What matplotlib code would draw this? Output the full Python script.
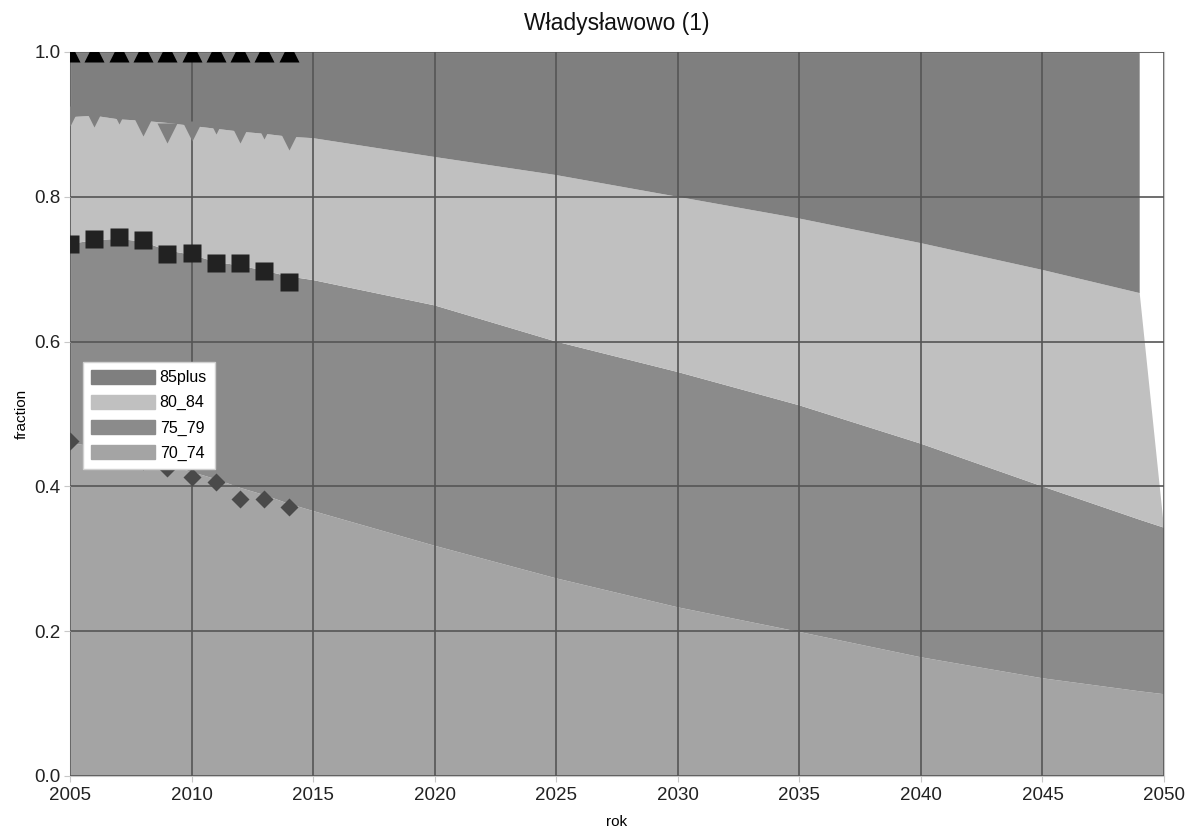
import matplotlib
matplotlib.use("Agg")
import matplotlib.pyplot as plt
from matplotlib.patches import Patch
import numpy as np

plt.rcParams['font.family'] = ['Liberation Sans', 'DejaVu Sans']

# DATA: model fractions per age group (stacked areas)
years = [2005, 2006, 2007, 2008, 2009, 2010, 2011, 2012, 2013, 2014, 2015,
         2020, 2025, 2030, 2035, 2040, 2045, 2049, 2050]
g70_74 = [0.460, 0.455, 0.450, 0.440, 0.430, 0.420, 0.410, 0.398, 0.388, 0.376, 0.366,
          0.318, 0.273, 0.233, 0.199, 0.164, 0.135, 0.117, 0.113]
g75_79 = [0.275, 0.285, 0.292, 0.298, 0.296, 0.300, 0.300, 0.307, 0.310, 0.314, 0.319,
          0.332, 0.327, 0.325, 0.313, 0.295, 0.265, 0.237, 0.230]
g80_84 = [0.175, 0.172, 0.165, 0.167, 0.176, 0.178, 0.184, 0.185, 0.189, 0.193, 0.196,
          0.205, 0.230, 0.242, 0.258, 0.277, 0.299, 0.313, 0.000]
g85plus = [0.090, 0.088, 0.093, 0.095, 0.098, 0.102, 0.106, 0.110, 0.113, 0.117, 0.119,
           0.145, 0.170, 0.200, 0.230, 0.264, 0.301, 0.333, np.nan]

# observed (cumulative) points
obs_years = [2005, 2006, 2007, 2008, 2009, 2010, 2011, 2012, 2013, 2014]
obs_70 = [0.463, 0.452, 0.445, 0.435, 0.425, 0.413, 0.406, 0.383, 0.383, 0.372]
obs_75 = [0.735, 0.742, 0.744, 0.740, 0.721, 0.723, 0.708, 0.709, 0.698, 0.682]
obs_80 = [0.912, 0.910, 0.914, 0.898, 0.888, 0.891, 0.900, 0.888, 0.893, 0.879]
obs_85 = [1.0, 1.0, 1.0, 1.0, 1.0, 1.0, 1.0, 1.0, 1.0, 1.0]

labels = ['70_74', '75_79', '80_84', '85plus']
colors = ['#a4a4a4', '#8b8b8b', '#c0c0c0', '#7f7f7f']

fig = plt.figure(figsize=(11.92, 8.32), dpi=100)
ax = fig.add_axes([70 / 1192, 1 - 776 / 832, 1094 / 1192, 724 / 832])

ax.stackplot(years, g70_74, g75_79, g80_84, g85plus, colors=colors,
             linewidth=0, zorder=1)

# grid drawn over the areas, markers over the grid
ax.set_axisbelow(False)
ax.grid(True, color='#555555', linewidth=1.2, zorder=2)

ax.plot(obs_years, obs_70, 'D', color='#4a4a4a', ms=9, mec='none', zorder=3)
ax.plot(obs_years, obs_75, 's', color='#222222', ms=12.5, mec='none', zorder=3)
ax.plot(obs_years, obs_80, 'v', color='#7f7f7f', ms=14, mec='none', zorder=3)
ax.plot(obs_years, obs_85, '^', color='#000000', ms=14, mec='none', zorder=3)

ax.set_xlim(2005, 2050)
ax.set_ylim(0, 1.0)
ax.set_xticks(range(2005, 2051, 5))
ax.set_yticks(np.arange(0, 1.01, 0.2))
ax.yaxis.set_major_formatter(matplotlib.ticker.FormatStrFormatter('%.1f'))
ax.tick_params(labelsize=13.5, colors='#c8c8c8', labelcolor='#222222', length=4)
ax.tick_params(axis='x', pad=4)
ax.tick_params(axis='y', pad=3)
for s in ax.spines.values():
    s.set_color('#c8c8c8')

ax.set_title('Władysławowo (1)', fontsize=16.5, pad=16, color='#111111')
ax.set_xlabel('rok', fontsize=11, labelpad=8)
ax.set_ylabel('fraction', fontsize=11, labelpad=4)

handles = [Patch(color=c, label=l) for c, l in zip(colors, labels)][::-1]
leg = ax.legend(handles=handles, loc='upper left',
                bbox_to_anchor=(83 / 1192, 1 - 362 / 832),
                bbox_transform=fig.transFigure, borderaxespad=0,
                fontsize=11.5, handlelength=4.0, handleheight=0.95,
                labelspacing=0.6, handletextpad=0.3, borderpad=0.5,
                fancybox=False, framealpha=1, edgecolor='#d0d0d0')
leg.set_zorder(5)

fig.savefig('out.png', dpi=100)
